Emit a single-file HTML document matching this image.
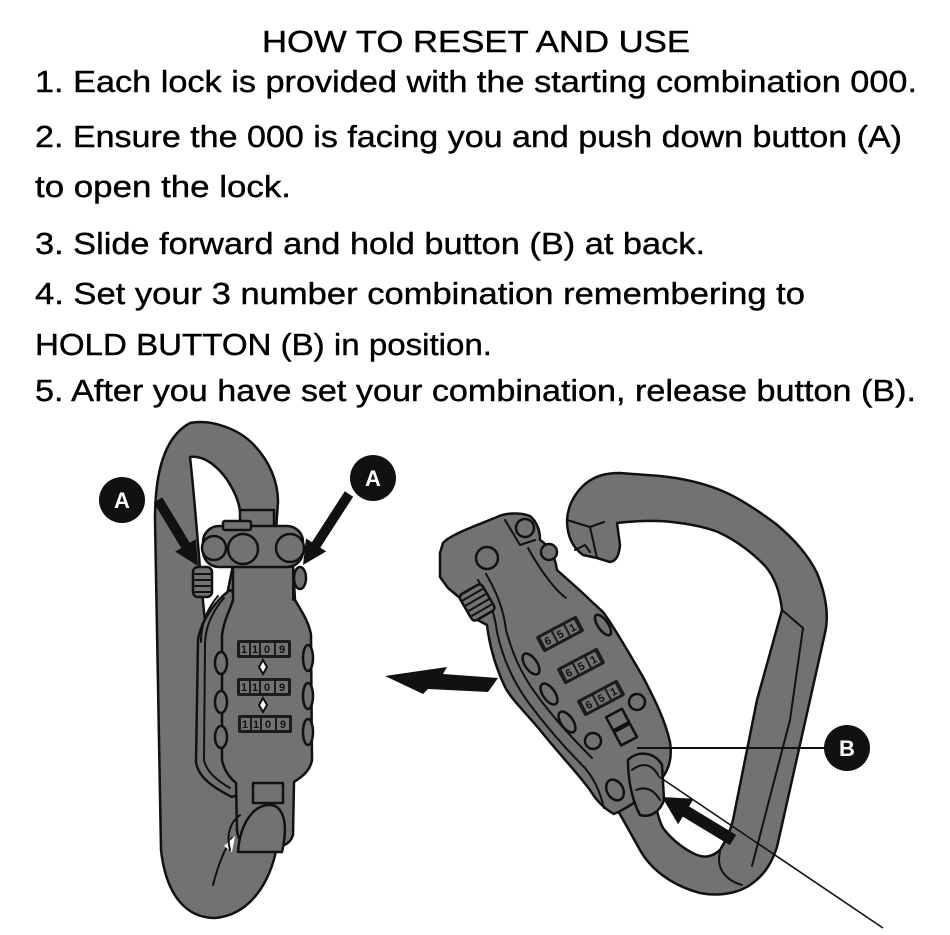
<!DOCTYPE html>
<html>
<head>
<meta charset="utf-8">
<style>
html,body{margin:0;padding:0;background:#fff;width:950px;height:935px;overflow:hidden}
svg{display:block}
.t{font-family:"Liberation Sans",Arial,sans-serif;font-size:31px;fill:#000;stroke:#000;stroke-width:0.4}
.g{fill:#727272;stroke:#111;stroke-width:2.5;stroke-linejoin:round}
.l{fill:none;stroke:#111;stroke-width:2;stroke-linecap:round;stroke-linejoin:round}
.d{fill:#1c1c1c}
.c{fill:#727272}
.dg{font-family:"Liberation Sans",Arial,sans-serif;font-weight:bold;font-size:11px;fill:#111}
.lab{font-family:"Liberation Sans",Arial,sans-serif;font-weight:900;font-size:22px;fill:#fff}
</style>
</head>
<body>
<svg width="950" height="935" viewBox="0 0 950 935" xmlns="http://www.w3.org/2000/svg">
<rect width="950" height="935" fill="#fff"/>

<!-- TEXT -->
<text class="t" x="262" y="52" textLength="428" lengthAdjust="spacingAndGlyphs">HOW TO RESET AND USE</text>
<text class="t" x="35" y="92" textLength="882" lengthAdjust="spacingAndGlyphs">1. Each lock is provided with the starting combination 000.</text>
<text class="t" x="35" y="147" textLength="867" lengthAdjust="spacingAndGlyphs">2. Ensure the 000 is facing you and push down button (A)</text>
<text class="t" x="35" y="197" textLength="256" lengthAdjust="spacingAndGlyphs">to open the lock.</text>
<text class="t" x="35" y="254" textLength="670" lengthAdjust="spacingAndGlyphs">3. Slide forward and hold button (B) at back.</text>
<text class="t" x="35" y="304" textLength="770" lengthAdjust="spacingAndGlyphs">4. Set your 3 number combination remembering to</text>
<text class="t" x="35" y="355" textLength="457" lengthAdjust="spacingAndGlyphs">HOLD BUTTON (B) in position.</text>
<text class="t" x="35" y="401" textLength="881" lengthAdjust="spacingAndGlyphs">5. After you have set your combination, release button (B).</text>

<!-- LEFT CARABINER -->
<path class="g" d="M190,423 C210,419 238,428 254,445 C270,462 278,482 278,502 L276,530 L278,840 C272,882 250,915 215,918 C186,918 166,895 161,850 L155,520 C155,478 162,438 190,423 Z"/>
<path d="M190,457 C206,455 223,470 233,490 C240,503 242,516 240,530 L226,600 L205,620 C200,580 197,520 190,457 Z" fill="#fff" stroke="#111" stroke-width="2.5" stroke-linejoin="round"/>
<path class="l" d="M213,885 C218,865 224,850 232,838"/>

<!-- left lock back plate -->
<path class="g" d="M230,590 C216,600 201,620 198,640 L196,762 C198,776 210,786 232,797 L244,792 L244,600 Z"/>
<path class="l" d="M224,598 C212,612 205,628 205,645 L204,760 C206,770 214,779 230,788"/>
<path class="l" d="M218,596 C206,610 201,626 201,642"/>
<!-- left lock face -->
<path class="g" d="M233,565 L293,565 L295,600 C302,612 309,622 311,635 L312,760 C310,772 300,778 294,782 L293,835 C290,845 282,848 262,848 C244,848 238,842 237,830 L236,783 C230,778 224,770 222,760 L222,635 C224,620 230,610 233,600 Z"/>
<!-- scallops -->
<ellipse class="g" cx="221" cy="663" rx="6" ry="11"/>
<ellipse class="g" cx="221" cy="702" rx="6" ry="11"/>
<ellipse class="g" cx="221" cy="737" rx="6" ry="11"/>
<ellipse class="g" cx="308" cy="658" rx="5" ry="13"/>
<ellipse class="g" cx="308" cy="696" rx="5" ry="13"/>
<ellipse class="g" cx="308" cy="732" rx="5" ry="13"/>
<!-- dials -->
<g>
<rect class="d" x="237" y="640" width="54" height="18" rx="2"/>
<rect class="c" x="240" y="643" width="9" height="12"/><rect class="c" x="251" y="643" width="8" height="12"/><rect class="c" x="261" y="643" width="13" height="12"/><rect class="c" x="276" y="643" width="12" height="12"/>
<text class="dg" x="241" y="653">1</text><text class="dg" x="252" y="653">1</text><text class="dg" x="264" y="653">0</text><text class="dg" x="279" y="653">9</text>
</g>
<g>
<rect class="d" x="237" y="678" width="54" height="18" rx="2"/>
<rect class="c" x="240" y="681" width="9" height="12"/><rect class="c" x="251" y="681" width="8" height="12"/><rect class="c" x="261" y="681" width="13" height="12"/><rect class="c" x="276" y="681" width="12" height="12"/>
<text class="dg" x="241" y="691">1</text><text class="dg" x="252" y="691">1</text><text class="dg" x="264" y="691">0</text><text class="dg" x="279" y="691">9</text>
</g>
<g>
<rect class="d" x="238" y="715" width="54" height="18" rx="2"/>
<rect class="c" x="241" y="718" width="9" height="12"/><rect class="c" x="252" y="718" width="8" height="12"/><rect class="c" x="262" y="718" width="13" height="12"/><rect class="c" x="277" y="718" width="12" height="12"/>
<text class="dg" x="242" y="728">1</text><text class="dg" x="253" y="728">1</text><text class="dg" x="265" y="728">0</text><text class="dg" x="280" y="728">9</text>
</g>
<path d="M263,660 L267,667 L263,674 L259,667 Z" fill="#fff" stroke="#111" stroke-width="2"/>
<path d="M263,698 L267,705 L263,712 L259,705 Z" fill="#fff" stroke="#111" stroke-width="2"/>
<!-- bottom recess and bar -->
<rect class="g" x="253" y="783" width="30" height="20"/>
<path class="g" d="M238,852 C240,822 256,800 275,806 C286,812 287,830 282,852 Z"/>
<path d="M224,846 L235,836 L232,852 Z" fill="#fff"/>
<path class="l" d="M230,850 C226,835 230,822 240,815"/>
<!-- housing -->
<path class="g" d="M240,510 L274,510 L274,530 L240,530 Z"/>
<rect class="g" x="203" y="526" width="100" height="41" rx="16"/>
<rect class="g" x="223" y="521" width="28" height="9" rx="2"/>
<circle class="g" cx="214" cy="548" r="12"/>
<circle class="g" cx="243" cy="549" r="15"/>
<circle class="g" cx="290" cy="548" r="14"/>
<rect class="g" x="193" y="567" width="19" height="30" rx="5"/>
<path class="l" d="M195,574 L210,574 M195,580 L210,580 M195,586 L210,586 M195,592 L210,592" stroke-width="1.3"/>
<ellipse class="g" cx="300" cy="578" rx="6" ry="11"/>
<path class="l" d="M233,567 L233,600 M293,567 L293,600"/>

<!-- A arrows -->
<polygon points="162.3,497.4 189.8,542.8 195.8,539.2 198,566 175.2,551.6 181.2,548 153.7,502.6" fill="#111"/>
<polygon points="344.8,491.3 311.9,542.2 306,538.4 303,565 326.2,551.4 320.3,547.6 353.2,496.7" fill="#111"/>
<circle cx="122" cy="500" r="23" fill="#111"/>
<text class="lab" x="122" y="508" text-anchor="middle">A</text>
<circle cx="373" cy="478" r="23" fill="#111"/>
<text class="lab" x="373" y="486" text-anchor="middle">A</text>

<!-- middle arrow -->
<polygon points="385,676 447,667 443,674 498,678 488,692 428,689 423,694" fill="#111"/>

<!-- RIGHT CARABINER D -->
<path class="g" d="M612,800 L640,850 C650,868 670,885 700,893 C715,896 735,895 750,885 C765,875 772,862 777,847 L810,700 L825,633 C828,620 828,600 817,573 C808,555 795,540 776,524 C760,512 740,498 720,490 C700,482 680,478 660,476 L620,473 C605,473 595,476 585,484 C575,493 568,505 567,520 C567,535 572,547 583,555 L597,558 L610,562 C616,561 619,556 620,545 L617,523 C635,521 655,520 672,522 C690,524 705,527 718,532 C735,540 752,552 766,567 C775,578 780,592 782,610 L757,700 L733,820 C730,832 726,840 720,850 C712,857 705,858 697,855 C685,850 672,840 663,828 C658,818 655,805 655,790 Z"/>
<path class="l" d="M782,610 L803,628 L790,720 L752,866" stroke-width="1.8"/>
<path class="l" d="M720,852 C716,868 725,880 742,885" stroke-width="1.8"/>
<path class="l" d="M567,520 L590,527 L604,522 M590,527 L597,558 M575,550 L585,545 L590,552" stroke-width="1.6"/>

<!-- right lock body -->
<path class="g" d="M440,553 L443,543 C450,535 470,528 497,517 C505,513 520,512 530,516 C537,522 540,530 540,540 C548,545 555,555 557,570 C568,580 580,590 590,600 L603,612 C615,628 630,655 643,677 C655,700 665,720 670,742 C672,755 670,768 662,778 C650,792 632,806 614,814 C603,808 596,800 590,790 C575,770 560,755 540,730 C525,712 512,700 505,687 C497,670 490,650 487,625 L470,616 L460,598 L448,588 L440,577 Z"/>
<path class="l" d="M478,580 C490,600 495,615 497,632 C502,655 512,680 528,702 C545,725 565,748 585,768 C595,780 600,792 604,808" stroke-width="1.8"/>
<path class="l" d="M486,574 C498,594 504,612 506,630 C512,652 520,672 536,694 C552,716 572,738 592,758" stroke-width="1.6"/>
<path class="l" d="M528,548 C540,570 555,590 566,598 M505,520 L520,545 L535,540" stroke-width="1.6"/>
<!-- top parts -->
<circle class="g" cx="487" cy="558" r="11"/>
<circle class="g" cx="525" cy="528" r="9"/>
<circle class="g" cx="549" cy="552" r="8"/>
<g transform="translate(478,602) rotate(-30)">
<rect class="g" x="-14" y="-15" width="26" height="30" rx="4"/>
<path class="l" d="M-12,-9 L10,-9 M-12,-3 L10,-3 M-12,3 L10,3 M-12,9 L10,9" stroke-width="1.2"/>
</g>
<!-- scallops -->
<ellipse class="g" cx="531" cy="664" rx="6" ry="12" transform="rotate(-35 531 664)"/>
<ellipse class="g" cx="549" cy="694" rx="6" ry="12" transform="rotate(-35 549 694)"/>
<ellipse class="g" cx="567" cy="722" rx="6" ry="12" transform="rotate(-35 567 722)"/>
<ellipse class="g" cx="603" cy="625" rx="5" ry="12" transform="rotate(-35 603 625)"/>
<!-- dials -->
<g transform="translate(560,634) rotate(-28)">
<rect class="d" x="-23" y="-9" width="46" height="18" rx="2"/>
<rect class="c" x="-19" y="-6" width="12" height="12"/><rect class="c" x="-5" y="-6" width="12" height="12"/><rect class="c" x="9" y="-6" width="10" height="12"/>
<text class="dg" x="-17" y="4">6</text><text class="dg" x="-3" y="4">5</text><text class="dg" x="11" y="4">1</text>
</g>
<g transform="translate(581,666) rotate(-28)">
<rect class="d" x="-23" y="-9" width="46" height="18" rx="2"/>
<rect class="c" x="-19" y="-6" width="12" height="12"/><rect class="c" x="-5" y="-6" width="12" height="12"/><rect class="c" x="9" y="-6" width="10" height="12"/>
<text class="dg" x="-17" y="4">6</text><text class="dg" x="-3" y="4">5</text><text class="dg" x="11" y="4">1</text>
</g>
<g transform="translate(601,698) rotate(-28)">
<rect class="d" x="-23" y="-9" width="46" height="18" rx="2"/>
<rect class="c" x="-19" y="-6" width="12" height="12"/><rect class="c" x="-5" y="-6" width="12" height="12"/><rect class="c" x="9" y="-6" width="10" height="12"/>
<text class="dg" x="-17" y="4">6</text><text class="dg" x="-3" y="4">5</text><text class="dg" x="11" y="4">1</text>
</g>
<!-- button B -->
<g transform="translate(622,728) rotate(-28)">
<rect class="g" x="-9" y="-17" width="18" height="15"/>
<rect class="g" x="-9" y="0" width="18" height="15"/>
</g>
<circle class="g" cx="593" cy="741" r="8"/>
<circle class="g" cx="637" cy="702" r="8"/>
<!-- swivel -->
<path class="g" d="M628,760 C638,750 655,752 662,765 L664,800 C660,812 650,818 640,815 C632,800 628,780 628,760 Z"/>
<path class="l" d="M632,770 C642,762 652,764 658,775 M636,790 C646,786 654,790 660,800" stroke-width="1.6"/>
<ellipse class="g" cx="615" cy="790" rx="8" ry="11" transform="rotate(-30 615 790)"/>

<!-- B arrow, line, circle -->
<polygon points="736.1,834.9 689,806.4 693.7,798.7 662,797 678.1,824.3 682.8,816.6 729.9,845.1" fill="#111"/>
<line x1="637" y1="748" x2="826" y2="748" stroke="#111" stroke-width="2"/>
<line x1="658" y1="776" x2="883" y2="928" stroke="#111" stroke-width="1.6"/>
<circle cx="847" cy="748" r="23" fill="#111"/>
<text class="lab" x="847" y="756" text-anchor="middle">B</text>
</svg>
</body>
</html>
